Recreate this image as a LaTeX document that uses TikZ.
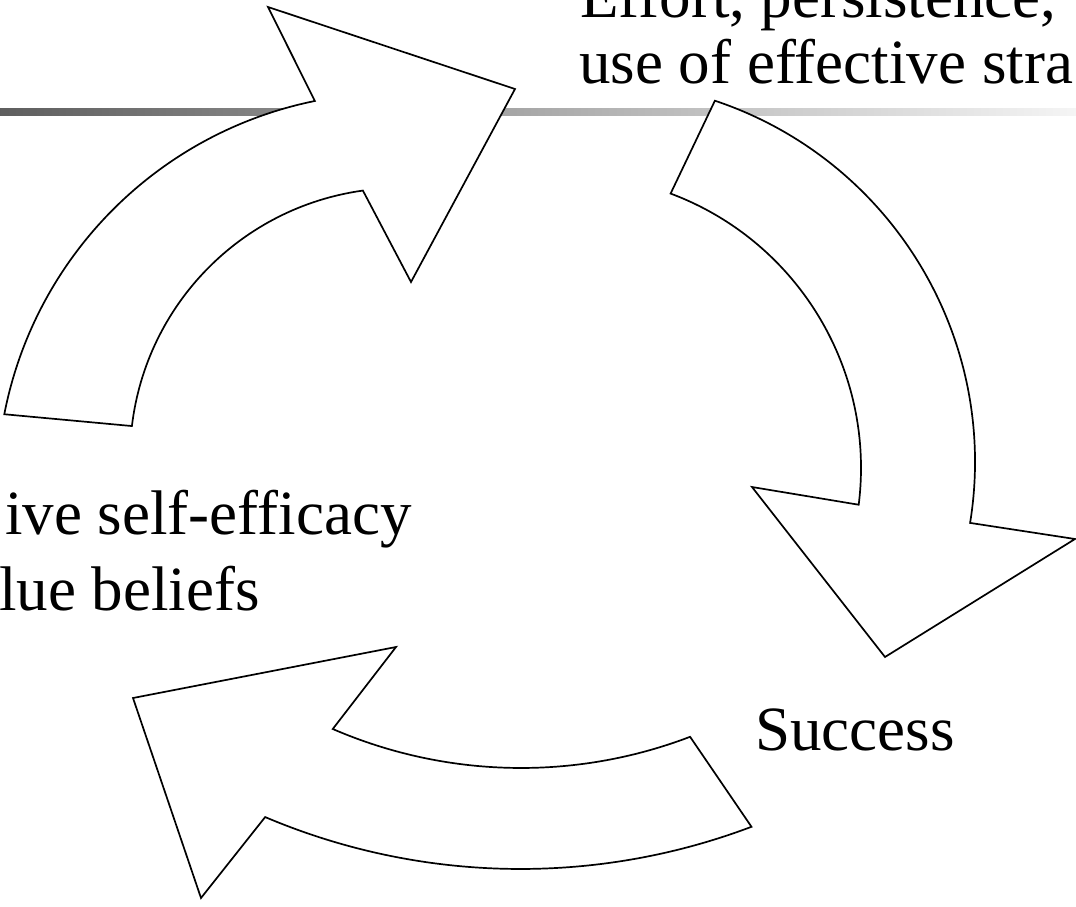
\documentclass[tikz,border=0pt]{standalone}
\usepackage{fontspec}
\setmainfont{Liberation Serif}[Ligatures=NoCommon]
\usetikzlibrary{calc}
\begin{document}
\begin{tikzpicture}[x=1pt,y=-1pt,
  arrowshape/.style={draw=black, fill=white, line width=1.7pt, line join=miter},
  lbl/.style={inner sep=0pt, anchor=base west, font=\fontsize{63}{76}\selectfont},
  band/.style={left color=black!63, right color=black!4}]
\useasboundingbox (0,0) rectangle (1076,907);
\begin{scope}
\clip (0,0) rectangle (1076,907);
% gradient rule under the title
\shade[band] (0,108) rectangle (1076,115);

% arrow 1 (upper left)
\coordinate (c1o) at (394,490);
\coordinate (c1i) at (400,458);
\coordinate (a1os) at ($(c1o)+(-169:397)$);
\coordinate (a1ie) at ($(c1i)+(-97.9:270)$);
\coordinate (a1back) at (268,7);
\coordinate (a1tip) at (515,89);
\coordinate (a1barb) at (411,282);
\filldraw[arrowshape] (a1os) arc[start angle=-169, end angle=-101.5, radius=397]
  -- (a1back) -- (a1tip) -- (a1barb) -- (a1ie)
  arc[start angle=-97.9, end angle=-173.2, radius=270] -- cycle;

% arrow 2 (right)
\coordinate (c2o) at (594,462);
\coordinate (c2i) at (568,468);
\coordinate (a2os) at ($(c2o)+(-71.5:381)$);
\coordinate (a2ie) at ($(c2i)+(7.2:293)$);
\coordinate (a2back) at (1075,539);
\coordinate (a2tip) at (885,657);
\coordinate (a2barb) at (752,487);
\filldraw[arrowshape] (a2os) arc[start angle=-71.5, end angle=9.2, radius=381]
  -- (a2back) -- (a2tip) -- (a2barb) -- (a2ie)
  arc[start angle=7.2, end angle=-69.5, radius=293] -- cycle;

% arrow 3 (bottom)
\coordinate (c3o) at (520.5,215.5);
\coordinate (c3i) at (521,294);
\coordinate (a3os) at ($(c3o)+(69.3:653.5)$);
\coordinate (a3is) at ($(c3i)+(113.4:474)$);
\coordinate (a3back) at (201,898);
\coordinate (a3tip) at (133,698);
\coordinate (a3barb) at (396,647);
\filldraw[arrowshape] (a3os) arc[start angle=69.3, end angle=113, radius=653.5]
  -- (a3back) -- (a3tip) -- (a3barb) -- (a3is)
  arc[start angle=113.4, end angle=69.1, radius=474] -- cycle;

% labels
\node[lbl] (t1) at (580,18) {Effort, persistence,};
\node[lbl] (t2) at (579,83) {use of effective stra};
\node[lbl] (t3) at (5,534) {ive self-efficacy};
\node[lbl] (t4) at (-1,610) {lue beliefs};
\node[lbl] (t5) at (755,750) {Success};
\end{scope}
\end{tikzpicture}
\end{document}
